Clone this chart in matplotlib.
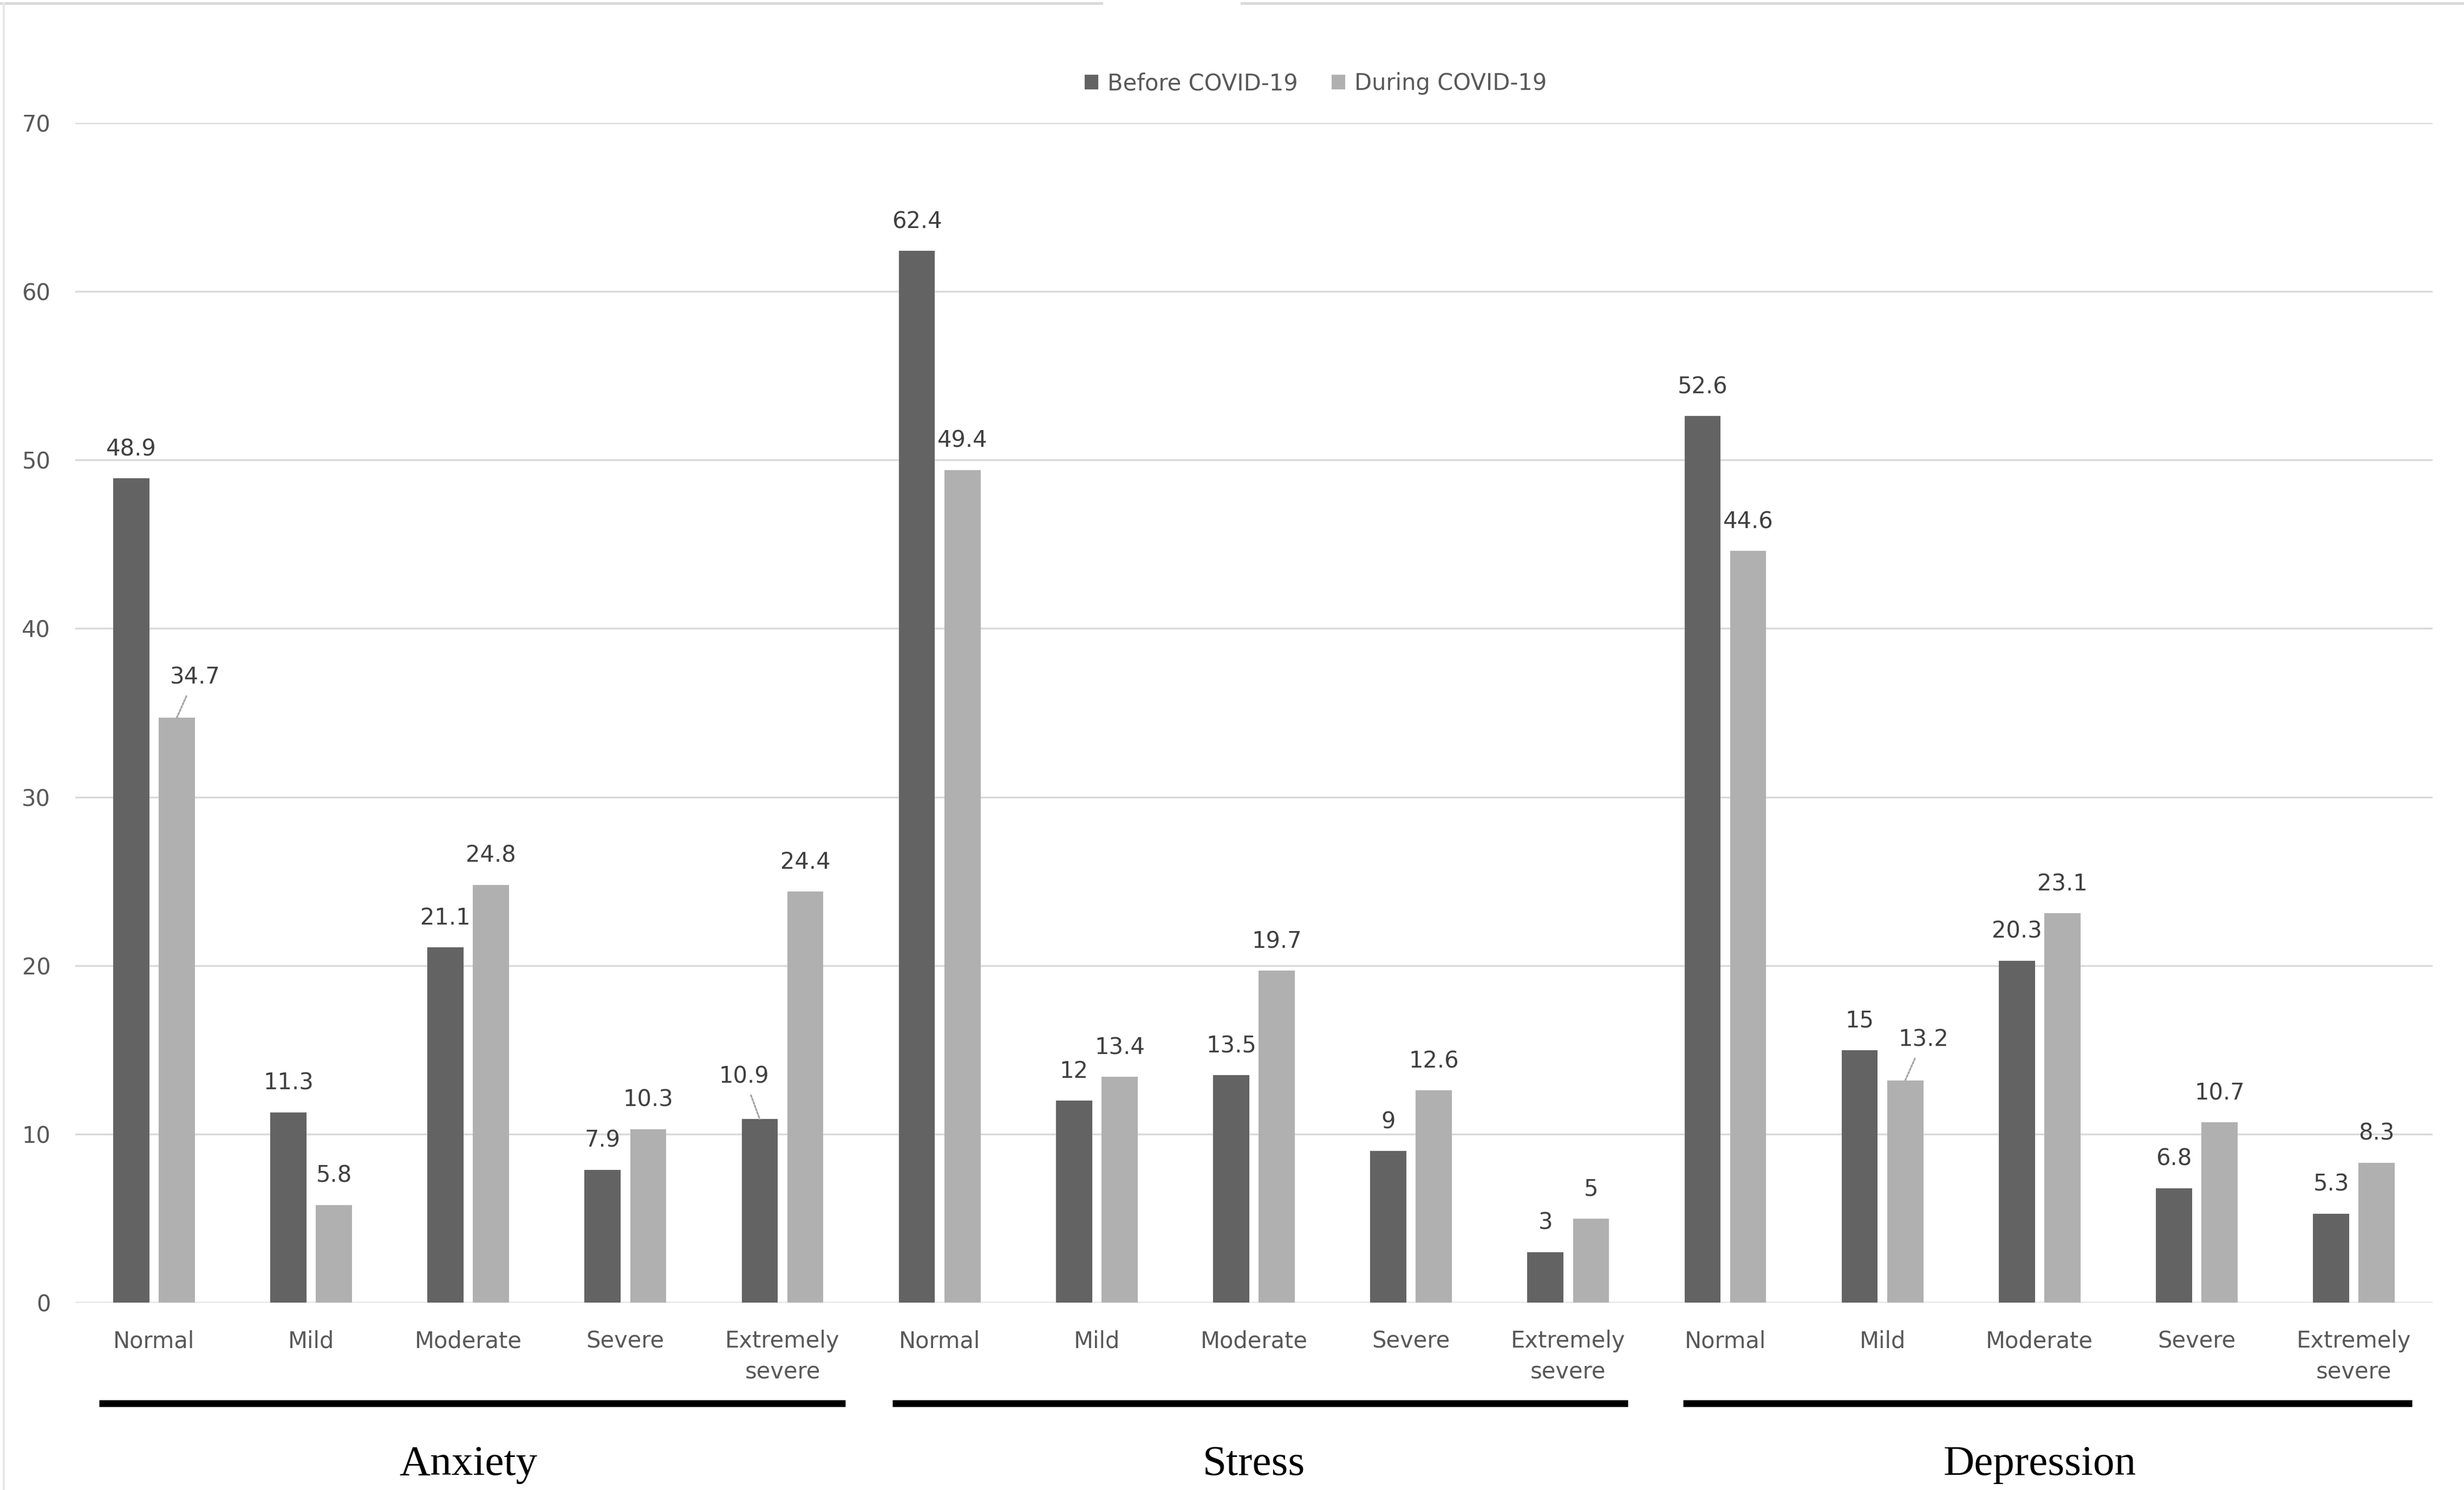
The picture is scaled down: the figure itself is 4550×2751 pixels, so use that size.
import matplotlib
matplotlib.use("Agg")
import matplotlib.pyplot as plt
from matplotlib.lines import Line2D
import numpy as np

# data
levels = ["Normal", "Mild", "Moderate", "Severe", "Extremely\nsevere"]
scales = ["Anxiety", "Stress", "Depression"]
before = [48.9, 11.3, 21.1, 7.9, 10.9,
          62.4, 12, 13.5, 9, 3,
          52.6, 15, 20.3, 6.8, 5.3]
during = [34.7, 5.8, 24.8, 10.3, 24.4,
          49.4, 13.4, 19.7, 12.6, 5,
          44.6, 13.2, 23.1, 10.7, 8.3]
series_names = ["Before COVID-19", "During COVID-19"]
yticks = [0, 10, 20, 30, 40, 50, 60, 70]

# labels that sit off to one side with a leader line: (series, index) -> offset in points
shifted = {(1, 0): (8, 18), (0, 4): (-7, 19), (1, 11): (8, 18)}

DARK = "#636363"
LIGHT = "#b0b0b0"
TEXT = "#595959"
GRID = "#d9d9d9"

plt.rcParams["font.family"] = ["DejaVu Sans"]

fig = plt.figure(figsize=(4550 / 300, 2751 / 300), dpi=300)
ax = fig.add_axes([0.0306, 0.1256, 0.9566, 0.792])

x = np.arange(len(before))
w = 0.23
off = 0.145
bars_b = ax.bar(x - off, before, w, color=DARK, label=series_names[0], zorder=3)
bars_d = ax.bar(x + off, during, w, color=LIGHT, label=series_names[1], zorder=3)

for s, bars in enumerate([bars_b, bars_d]):
    for i, b in enumerate(bars):
        v = b.get_height()
        xc = b.get_x() + b.get_width() / 2
        txt = f"{v:g}"
        if (s, i) in shifted:
            ax.annotate(txt, (xc, v), xytext=shifted[(s, i)], textcoords="offset points",
                        ha="center", va="center", fontsize=10, color="#404040",
                        arrowprops=dict(arrowstyle="-", color="#a6a6a6", lw=0.8,
                                        linestyle=(0, (1, 1)), shrinkA=1.5, shrinkB=0))
        else:
            ax.annotate(txt, (xc, v), xytext=(0, 13), textcoords="offset points",
                        ha="center", va="center", fontsize=10, color="#404040")

ax.set_xlim(-0.5, len(before) - 0.5)
ax.set_ylim(0, 70)
ax.set_yticks(yticks)
ax.set_xticks(x)
ax.set_xticklabels(levels * len(scales), linespacing=1.45)
ax.tick_params(axis="both", length=0, labelsize=10, labelcolor=TEXT)
ax.tick_params(axis="x", pad=12)
ax.tick_params(axis="y", pad=11)
ax.yaxis.grid(True, color=GRID, lw=0.8, zorder=0)
for sp in ax.spines.values():
    sp.set_visible(False)
ax.axhline(0, color=GRID, lw=0.8, zorder=2)

# group underlines and names
trans = ax.get_xaxis_transform()
spans = [(-0.35, 4.4), (4.7, 9.38), (9.73, 14.37)]
for (a, b), name, k in zip(spans, scales, range(3)):
    ax.plot([a, b], [-0.085, -0.085], color="black", lw=3, transform=trans,
            clip_on=False, solid_capstyle="butt")
    ax.text(k * 5 + 2, -0.137, name, transform=trans, ha="center", va="center",
            fontsize=19, family="Liberation Serif", color="black")

fig.legend(loc="center", bbox_to_anchor=(0.534, 0.944), ncol=2, frameon=False,
           fontsize=10, handlelength=0.6, handleheight=0.6, columnspacing=1.5,
           handletextpad=0.4, labelcolor=TEXT)

# light outer frame (open at top middle)
fig.add_artist(Line2D([0.0, 0.447], [0.998, 0.998], color=GRID, lw=1.2))
fig.add_artist(Line2D([0.504, 1.0], [0.998, 0.998], color=GRID, lw=1.2))
fig.add_artist(Line2D([0.0015, 0.0015], [0.0, 0.998], color="#e8e8e8", lw=1.0))

fig.savefig("out.png", dpi=300)
